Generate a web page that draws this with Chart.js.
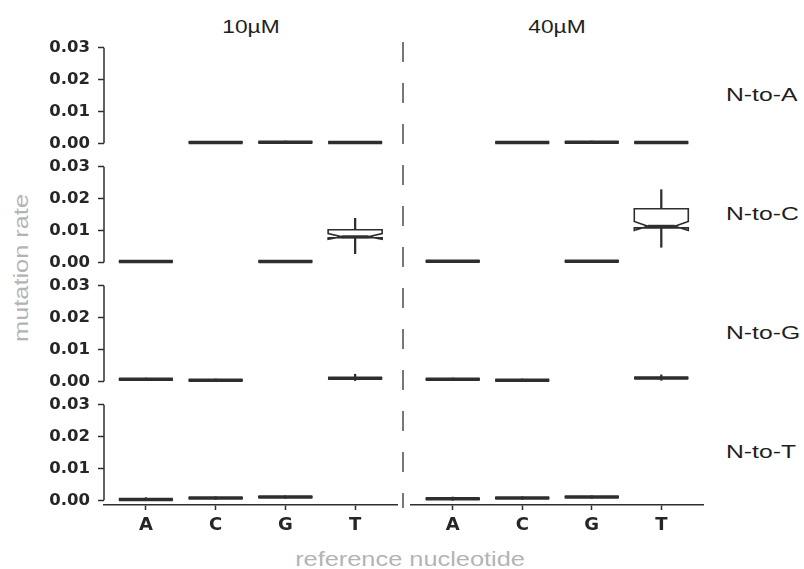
<!DOCTYPE html>
<html>
<head>
<meta charset="utf-8">
<script src="https://cdn.jsdelivr.net/npm/chart.js@4.4.0/dist/chart.umd.min.js"></script>
<style>
  html, body { margin: 0; padding: 0; background: #fff; }
  body { width: 804px; height: 569px; position: relative; overflow: hidden;
         font-family: "Liberation Sans", Arial, sans-serif; }
  canvas { position: absolute; }
  .lbl { position: absolute; white-space: nowrap; color: #1e1e1e; line-height: 1; }
  .ctr { transform: translate(-50%, -50%) scaleX(1.3); transform-origin: 50% 50%; }
  .row { transform: translateY(-50%) scaleX(1.3); transform-origin: 0 50%; }
  .axt { color: #b4b4b4; }
</style>
</head>
<body>
<svg style="position:absolute;left:0;top:0" width="804" height="569">
  <line x1="403" y1="42" x2="403" y2="508" stroke="#777" stroke-width="2" stroke-dasharray="20 21"/>
</svg>
<div id="labels"></div>
<script>
// ---------------- data ----------------
const categories = ['A', 'C', 'G', 'T'];
const concentrations = ['10\u00B5M', '40\u00B5M'];
const mutationTypes = ['N-to-A', 'N-to-C', 'N-to-G', 'N-to-T'];
const yTickValues = [0, 0.01, 0.02, 0.03];
const xAxisTitle = 'reference nucleotide';
const yAxisTitle = 'mutation rate';

// indexed [concentration][mutationType][category]; null = no box
const whiskerLow = [
  [[null, 0.0000, 0.0001, 0.0000], [0.0000, null, 0.0000, 0.0027], [0.0002, 0.0000, null, 0.0002], [0.0000, 0.0003, 0.0006, null]],
  [[null, 0.0000, 0.0001, 0.0000], [0.0000, null, 0.0000, 0.0047], [0.0002, 0.0000, null, 0.0003], [0.0000, 0.0003, 0.0006, null]]
];
const lowerQuartile = [
  [[null, 0.0000, 0.0001, 0.0000], [0.0000, null, 0.0000, 0.0077], [0.0004, 0.0001, null, 0.0006], [0.0000, 0.0005, 0.0008, null]],
  [[null, 0.0000, 0.0001, 0.0000], [0.0001, null, 0.0001, 0.0108], [0.0004, 0.0001, null, 0.0007], [0.0002, 0.0005, 0.0008, null]]
];
const median = [
  [[null, 0.0002, 0.0003, 0.0002], [0.0002, null, 0.0002, 0.0080], [0.0006, 0.0003, null, 0.0009], [0.0002, 0.0007, 0.0010, null]],
  [[null, 0.0002, 0.0003, 0.0002], [0.0003, null, 0.0003, 0.0113], [0.0006, 0.0003, null, 0.0010], [0.0005, 0.0007, 0.0010, null]]
];
const upperQuartile = [
  [[null, 0.0004, 0.0005, 0.0004], [0.0004, null, 0.0004, 0.0102], [0.0008, 0.0005, null, 0.0012], [0.0004, 0.0009, 0.0012, null]],
  [[null, 0.0004, 0.0005, 0.0004], [0.0005, null, 0.0005, 0.0168], [0.0008, 0.0005, null, 0.0013], [0.0007, 0.0009, 0.0012, null]]
];
const whiskerHigh = [
  [[null, 0.0006, 0.0007, 0.0006], [0.0005, null, 0.0005, 0.0138], [0.0010, 0.0007, null, 0.0022], [0.0008, 0.0011, 0.0014, null]],
  [[null, 0.0006, 0.0007, 0.0006], [0.0006, null, 0.0006, 0.0228], [0.0010, 0.0007, null, 0.0020], [0.0010, 0.0011, 0.0014, null]]
];
const notchLow = [
  [[null, null, null, null], [null, null, null, 0.0072], [null, null, null, null], [null, null, null, null]],
  [[null, null, null, null], [null, null, null, 0.0100], [null, null, null, null], [null, null, null, null]]
];
const notchHigh = [
  [[null, null, null, null], [null, null, null, 0.0090], [null, null, null, null], [null, null, null, null]],
  [[null, null, null, null], [null, null, null, 0.0128], [null, null, null, null], [null, null, null, null]]
];

// ---------------- styling / layout ----------------
const INK = '#2e2e2e';
const TICK_FONT = { family: '"DejaVu Sans", sans-serif', size: 16.5, weight: 'bold' };
const colLeft = [0, 404], colWidth = [400, 300], padLeft = [0, 7], padRight = [3, 1];
const areaTop0 = 43, rowStep = 119, pad = 18, areaH = 105, xAxisH = 45;

const boxPlugin = {
  id: 'boxplot',
  afterDatasetsDraw(chart, args, opts) {
    const { ctx, chartArea } = chart;
    const y = chart.scales.y;
    const c = opts.col, r = opts.row;
    const meta = chart.getDatasetMeta(0);
    ctx.save();
    ctx.strokeStyle = INK;
    ctx.lineCap = 'butt';
    meta.data.forEach((bar, k) => {
      const i = chart.data.datasets[0].data[k].x - 1;
      const half = bar.width / 2, xc = bar.x;
      const yMed = y.getPixelForValue(median[c][r][i]);
      if (notchLow[c][r][i] != null) {
        const yq1 = y.getPixelForValue(lowerQuartile[c][r][i]);
        const yq3 = y.getPixelForValue(upperQuartile[c][r][i]);
        const yLo = y.getPixelForValue(notchLow[c][r][i]);
        const yHi = y.getPixelForValue(notchHigh[c][r][i]);
        const inset = half * 0.5;
        ctx.beginPath();
        ctx.moveTo(xc - half, yq1);
        ctx.lineTo(xc + half, yq1);
        ctx.lineTo(xc + half, yLo);
        ctx.lineTo(xc + half - inset, yMed);
        ctx.lineTo(xc + half, yHi);
        ctx.lineTo(xc + half, yq3);
        ctx.lineTo(xc - half, yq3);
        ctx.lineTo(xc - half, yHi);
        ctx.lineTo(xc - half + inset, yMed);
        ctx.lineTo(xc - half, yLo);
        ctx.closePath();
        ctx.fillStyle = '#fff';
        ctx.fill();
        ctx.lineWidth = 1.6;
        ctx.stroke();
        ctx.lineWidth = 3;
        ctx.beginPath();
        ctx.moveTo(xc - half + inset, yMed);
        ctx.lineTo(xc + half - inset, yMed);
        ctx.stroke();
      } else {
        ctx.lineWidth = 3.5;
        ctx.beginPath();
        ctx.moveTo(xc - half, yMed);
        ctx.lineTo(xc + half, yMed);
        ctx.stroke();
      }
    });
    if (c === 0) {
      ctx.lineWidth = 1.5;
      ctx.beginPath();
      ctx.moveTo(chartArea.left, y.getPixelForValue(yTickValues[0]));
      ctx.lineTo(chartArea.left, y.getPixelForValue(yTickValues[yTickValues.length - 1]));
      ctx.stroke();
    }
    ctx.restore();
  }
};

function buildPanel(c, r) {
  const isBottom = r === mutationTypes.length - 1;
  const isLeft = c === 0;
  const canvas = document.createElement('canvas');
  const h = pad + areaH + (isBottom ? xAxisH : pad);
  canvas.width = colWidth[c];
  canvas.height = h;
  canvas.style.left = colLeft[c] + 'px';
  canvas.style.top = (areaTop0 + rowStep * r - pad) + 'px';
  canvas.style.width = colWidth[c] + 'px';
  canvas.style.height = h + 'px';
  document.body.appendChild(canvas);

  const boxData = [], whiskerData = [], boxFill = [], boxLine = [];
  categories.forEach((cat, i) => {
    if (median[c][r][i] == null) return;
    boxData.push({ x: i + 1, y: [lowerQuartile[c][r][i], upperQuartile[c][r][i]] });
    whiskerData.push({ x: i + 1, y: [whiskerLow[c][r][i], whiskerHigh[c][r][i]] });
    const notched = notchLow[c][r][i] != null;
    boxFill.push(notched ? 'rgba(0,0,0,0)' : '#ffffff');
    boxLine.push(notched ? 'rgba(0,0,0,0)' : INK);
  });

  new Chart(canvas, {
    type: 'bar',
    data: {
      datasets: [
        { label: 'box', data: boxData, backgroundColor: boxFill, borderColor: boxLine,
          borderWidth: 1.5, borderSkipped: false, barThickness: 54, grouped: false },
        { label: 'whisker', data: whiskerData, backgroundColor: INK, borderWidth: 0,
          barThickness: 1.6, grouped: false }
      ]
    },
    options: {
      responsive: false,
      animation: false,
      devicePixelRatio: 1,
      events: [],
      layout: { padding: { top: pad, bottom: isBottom ? 0 : pad, left: padLeft[c], right: padRight[c] } },
      plugins: { legend: { display: false }, tooltip: { enabled: false }, boxplot: { col: c, row: r } },
      scales: {
        x: {
          type: 'linear', min: 0.4, max: 4.6, offset: false, display: isBottom,
          afterBuildTicks: (axis) => { axis.ticks = categories.map((_, i) => ({ value: i + 1 })); },
          afterFit: (axis) => { if (isBottom) axis.height = xAxisH; },
          ticks: { callback: (v) => categories[v - 1], color: '#262626', padding: 5,
                   font: { family: TICK_FONT.family, size: 18, weight: 'bold' }, maxRotation: 0, autoSkip: false },
          grid: { offset: false, drawOnChartArea: false, drawTicks: true, tickLength: 5, color: INK, tickWidth: 1.5 },
          border: { display: true, color: INK, width: 1.5 }
        },
        y: {
          type: 'linear', min: -0.0015, max: 0.0315, display: isLeft,
          afterBuildTicks: (axis) => { axis.ticks = yTickValues.map(v => ({ value: v })); },
          afterFit: (axis) => { if (isLeft) axis.width = 104; },
          ticks: { callback: (v) => v.toFixed(2), color: '#262626', padding: 8, font: TICK_FONT, autoSkip: false },
          grid: { drawOnChartArea: false, drawTicks: true, tickLength: 6, color: INK, tickWidth: 1.5 },
          border: { display: false }
        }
      }
    },
    plugins: [boxPlugin]
  });
}

for (let r = 0; r < mutationTypes.length; r++) {
  for (let c = 0; c < concentrations.length; c++) buildPanel(c, r);
}

// ---------------- text labels ----------------
const labels = document.getElementById('labels');
function addLabel(text, cls, left, top, size, extra) {
  const d = document.createElement('div');
  d.className = 'lbl ' + cls;
  d.textContent = text;
  d.style.left = left + 'px';
  d.style.top = top + 'px';
  d.style.fontSize = size + 'px';
  if (extra) d.style.transform = extra;
  labels.appendChild(d);
}
addLabel(concentrations[0], 'ctr', 251, 28, 17.5);
addLabel(concentrations[1], 'ctr', 557, 28, 17.5);
mutationTypes.forEach((t, r) => addLabel(t, 'row', 726, 94 + rowStep * r, 19));
addLabel(xAxisTitle, 'ctr axt', 410, 560, 19.5);
addLabel(yAxisTitle, 'ctr axt', 22, 268, 19.5, 'translate(-50%, -50%) rotate(-90deg) scaleX(1.3)');
</script>
</body>
</html>
